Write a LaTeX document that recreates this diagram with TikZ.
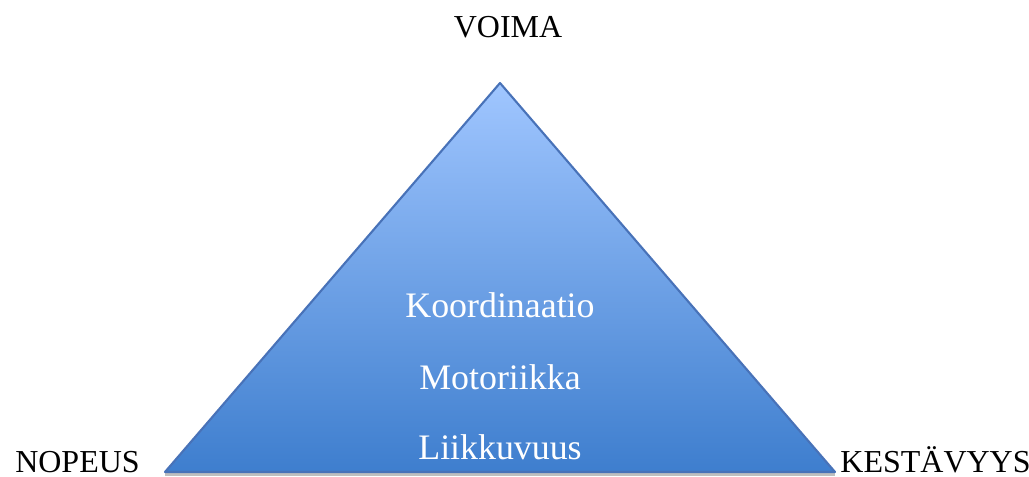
\documentclass[tikz,border=0pt]{standalone}
\usepackage{fontspec}
\setmainfont{Liberation Serif}
\definecolor{pyrtop}{RGB}{160,198,255}
\definecolor{pyrbot}{RGB}{62,126,206}
\definecolor{pyredge}{RGB}{72,114,184}
\begin{document}
\begin{tikzpicture}[
    corner/.style={anchor=base, font=\fontsize{9.1}{11}\selectfont},
    inner/.style={anchor=base, text=white, font=\fontsize{10.2}{12}\selectfont}]
    \useasboundingbox (0, 0) rectangle (10.29, 4.77);

    \coordinate (top)   at (5.00, 3.94);
    \coordinate (left)  at (1.65, 0.05);
    \coordinate (right) at (8.35, 0.05);

    % shadow and pyramid
    \draw [black!25, line width=1.2pt] ([yshift=-0.02cm]left) -- ([yshift=-0.02cm]right);
    \shade [top color=pyrtop, bottom color=pyrbot] (top) -- (left) -- (right) -- cycle;
    \draw [pyredge, line width=0.6pt, line join=round] (top) -- (left) -- (right) -- cycle;

    \node [corner] (voima)  at (5.08, 4.39) {VOIMA};
    \node [corner] (nopeus) at (0.775, 0.05) {NOPEUS};
    \node [corner] (kesta)  at (9.355, 0.05) {KESTÄVYYS};

    \node [inner] (koord) at (5.00, 1.59) {Koordinaatio};
    \node [inner] (motor) at (5.00, 0.87) {Motoriikka};
    \node [inner] (liikk) at (5.00, 0.17) {Liikkuvuus};
\end{tikzpicture}
\end{document}
